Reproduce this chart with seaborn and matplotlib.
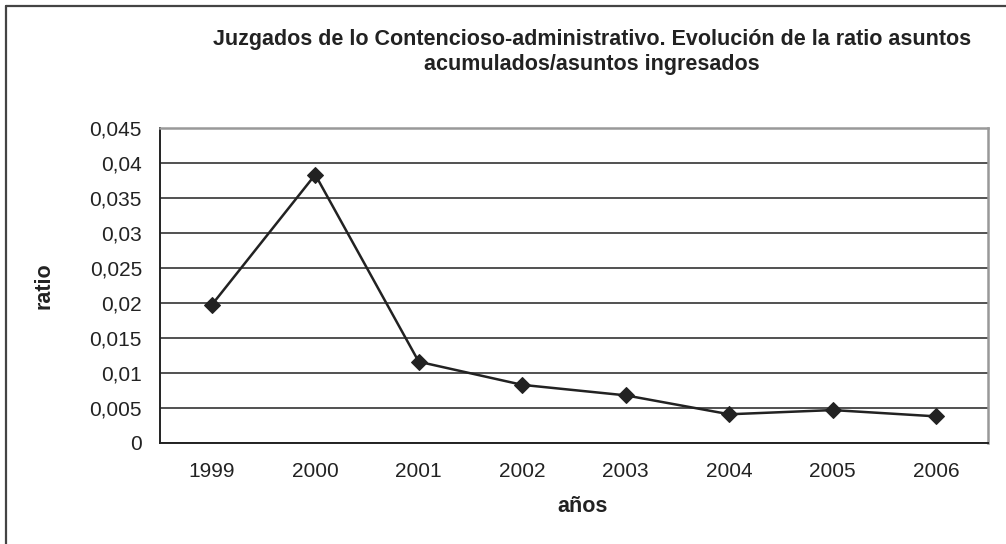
import matplotlib
matplotlib.use("Agg")
import matplotlib.pyplot as plt
import seaborn as sns
import pandas as pd
from matplotlib.lines import Line2D
from matplotlib.ticker import FixedLocator

years = ["1999", "2000", "2001", "2002", "2003", "2004", "2005", "2006"]
ratio = [0.0197, 0.0383, 0.0116, 0.0083, 0.0068, 0.0041, 0.0047, 0.0038]
yticks = [0, 0.005, 0.01, 0.015, 0.02, 0.025, 0.03, 0.035, 0.04, 0.045]
ytick_labels = ["0", "0,005", "0,01", "0,015", "0,02", "0,025", "0,03", "0,035", "0,04", "0,045"]
title = "Juzgados de lo Contencioso-administrativo. Evolución de la ratio asuntos\nacumulados/asuntos ingresados"

sns.set_theme(style="white")
plt.rcParams["font.family"] = ["Liberation Sans", "DejaVu Sans"]

df = pd.DataFrame({"año": years, "ratio": ratio})

W, H = 1006, 544
fig = plt.figure(figsize=(W / 100, H / 100), dpi=100)
L, R, T, B = 160, 988, 127.7, 443
ax = fig.add_axes([L / W, 1 - B / H, (R - L) / W, (B - T) / H])

# outer chart border (only top and left visible; the rest is cropped)
fig.add_artist(Line2D([5.5 / W, 1.0], [1 - 5.5 / H, 1 - 5.5 / H], transform=fig.transFigure,
                      color="#444444", linewidth=1.6))
fig.add_artist(Line2D([5.5 / W, 5.5 / W], [0.0, 1 - 5.5 / H], transform=fig.transFigure,
                      color="#444444", linewidth=1.6))

sns.lineplot(data=df, x="año", y="ratio", ax=ax, color="#222222", linewidth=1.8,
             marker="D", markersize=8, markeredgecolor="#222222", markerfacecolor="#222222",
             sort=False)

ax.set_xlim(-0.5, len(years) - 0.5)
ax.set_ylim(0, 0.045)
ax.set_yticks(yticks)
ax.set_yticklabels(ytick_labels)
ax.yaxis.grid(True, color="#222222", linewidth=1.1)
ax.set_axisbelow(True)

ax.set_xticks(range(len(years)))
ax.set_xticklabels(years)
ax.xaxis.set_minor_locator(FixedLocator([i - 0.5 for i in range(len(years) + 1)]))
ax.tick_params(axis="x", which="major", length=0, pad=14, labelsize=15, colors="#222222")
ax.tick_params(axis="x", which="minor", length=8, width=1.1, color="#222222", direction="out")
ax.tick_params(axis="y", which="major", length=7, width=1.1, color="#222222", direction="out",
               labelsize=15, labelcolor="#222222", pad=6)

for s in ["left", "bottom"]:
    ax.spines[s].set_color("#222222")
    ax.spines[s].set_linewidth(1.4)
for s in ["top", "right"]:
    ax.spines[s].set_color("#999999")
    ax.spines[s].set_linewidth(1.8)

ax.set_xlabel("años", fontsize=15.5, fontweight="bold", color="#222222")
ax.xaxis.label.set_va("center")
ax.xaxis.set_label_coords((583 - L) / (R - L), -(506 - B) / (B - T))
ax.set_ylabel("ratio", fontsize=15.5, fontweight="bold", color="#222222")
ax.yaxis.label.set_va("center")
ax.yaxis.set_label_coords((44 - L) / (R - L), 0.5)

fig.text(592 / W, 1 - 52 / H, title, ha="center", va="center", fontsize=15.5,
         fontweight="bold", color="#222222", linespacing=1.2)

fig.savefig("out.png", dpi=100)
